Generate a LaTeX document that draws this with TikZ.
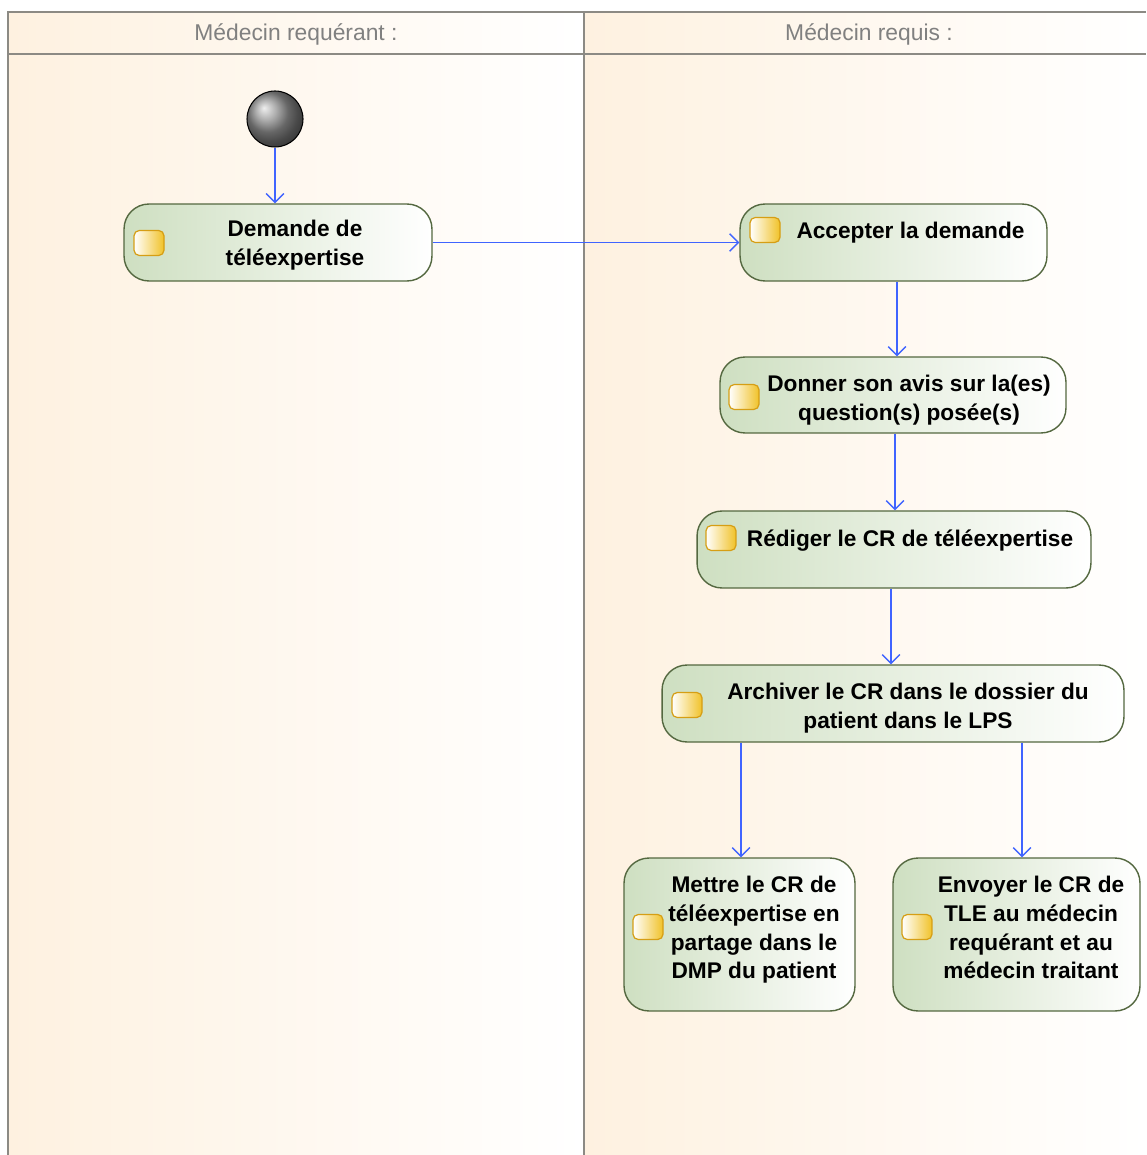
\documentclass[tikz,border=0pt]{standalone}
\usepackage{fontspec}
\setmainfont{Liberation Sans}
\usepackage{tikz}
\usetikzlibrary{shapes,arrows.meta}

\definecolor{lanecream}{RGB}{254,241,224}
\definecolor{laneline}{RGB}{140,138,132}
\definecolor{actgreen}{RGB}{206,223,193}
\definecolor{actborder}{RGB}{84,104,64}
\definecolor{flowblue}{RGB}{64,100,255}
\definecolor{icongold}{RGB}{240,194,40}
\definecolor{iconborder}{RGB}{214,158,20}

\begin{document}
\begin{tikzpicture}[x=0.02cm,y=-0.02cm]
	\tikzstyle{every node}=[font=\fontsize{12.9}{16.4}\selectfont\bfseries]
	\tikzstyle{action}=[draw=actborder, line width=0.8pt, rounded corners=0.5cm, left color=actgreen, right color=white, inner sep=0pt]
	\tikzstyle{acttext}=[anchor=north, align=center, inner sep=0pt, execute at begin node=\strut]
	\tikzstyle{icon}=[rectangle, rounded corners=3pt, draw=iconborder, line width=0.7pt, left color=white, right color=icongold, minimum width=0.6cm, minimum height=0.5cm, inner sep=0pt]
	\tikzstyle{flow}=[flowblue, line width=0.8pt, -{Straight Barb[length=5pt,width=10pt]}]
	\tikzstyle{lanehead}=[font=\fontsize{13}{15}\selectfont, text=gray]
	
	\useasboundingbox (0,0) rectangle (1146,1155);
	
	% swimlanes
	\shade[left color=lanecream, right color=white] (8,12) rectangle (584,1155);
	\shade[left color=lanecream, right color=white] (584,12) rectangle (1146,1155);
	\draw[laneline, line width=1.1pt] (8,1155) -- (8,12) -- (1146,12);
	\draw[laneline, line width=1.1pt] (8,54) -- (1146,54);
	\draw[laneline, line width=1.1pt] (584,12) -- (584,1155);
	\node[lanehead] (requerant) at (296,34) {Médecin requérant :};
	\node[lanehead] (requis) at (869,34) {Médecin requis :};
	
	% initial node
	\node[circle, minimum size=1.12cm, draw=black, line width=0.6pt, shading=ball, ball color=gray!85] (start) at (275,119) {};
	
	% actions
	\node[action, minimum width=6.16cm, minimum height=1.54cm] (demande) at (278,242.5) {};
	\node[icon] (demandeicon) at (149,243) {};
	\node[acttext] (demandetxt) at (295,220) {Demande de\\téléexpertise};
	
	\node[action, minimum width=6.14cm, minimum height=1.54cm] (accepter) at (893.5,242.5) {};
	\node[icon] (acceptericon) at (765,230) {};
	\node[acttext] (acceptertxt) at (910.5,218) {Accepter la demande};
	
	\node[action, minimum width=6.92cm, minimum height=1.52cm] (donner) at (893,395) {};
	\node[icon] (donnericon) at (744,397) {};
	\node[acttext] (donnertxt) at (909,375) {Donner son avis sur la(es)\\question(s) posée(s)};
	
	\node[action, minimum width=7.88cm, minimum height=1.54cm] (rediger) at (894,549.5) {};
	\node[icon] (redigericon) at (721,538) {};
	\node[acttext] (redigertxt) at (910,525.6) {Rédiger le CR de téléexpertise};
	
	\node[action, minimum width=9.24cm, minimum height=1.54cm] (archiver) at (893,703.5) {};
	\node[icon] (archivericon) at (687,705) {};
	\node[acttext] (archivertxt) at (908,682.6) {Archiver le CR dans le dossier du\\patient dans le LPS};
	
	\node[action, minimum width=4.62cm, minimum height=3.06cm] (mettre) at (739.5,934.5) {};
	\node[icon] (mettreicon) at (648,927) {};
	\node[acttext] (mettretxt) at (754,875.6) {Mettre le CR de\\téléexpertise en\\partage dans le\\DMP du patient};
	
	\node[action, minimum width=4.94cm, minimum height=3.06cm] (envoyer) at (1016.5,934.5) {};
	\node[icon] (envoyericon) at (917,927) {};
	\node[acttext] (envoyertxt) at (1031,875.6) {Envoyer le CR de\\TLE au médecin\\requérant et au\\médecin traitant};
	
	% flows
	\draw[flow] (start) -- (start |- demande.north);
	\draw[flow] (demande) -- (accepter);
	\draw[flow] ([xshift=0.07cm]accepter.south) -- ([xshift=0.07cm]accepter.south |- donner.north);
	\draw[flow] ([xshift=0.04cm]donner.south) -- ([xshift=0.04cm]donner.south |- rediger.north);
	\draw[flow] ([xshift=-0.06cm]rediger.south) -- ([xshift=-0.06cm]rediger.south |- archiver.north);
	\draw[flow] ([xshift=0.03cm]archiver.south -| mettre.north) -- ([xshift=0.03cm]mettre.north);
	\draw[flow] ([xshift=0.11cm]archiver.south -| envoyer.north) -- ([xshift=0.11cm]envoyer.north);
	
\end{tikzpicture}
\end{document}
